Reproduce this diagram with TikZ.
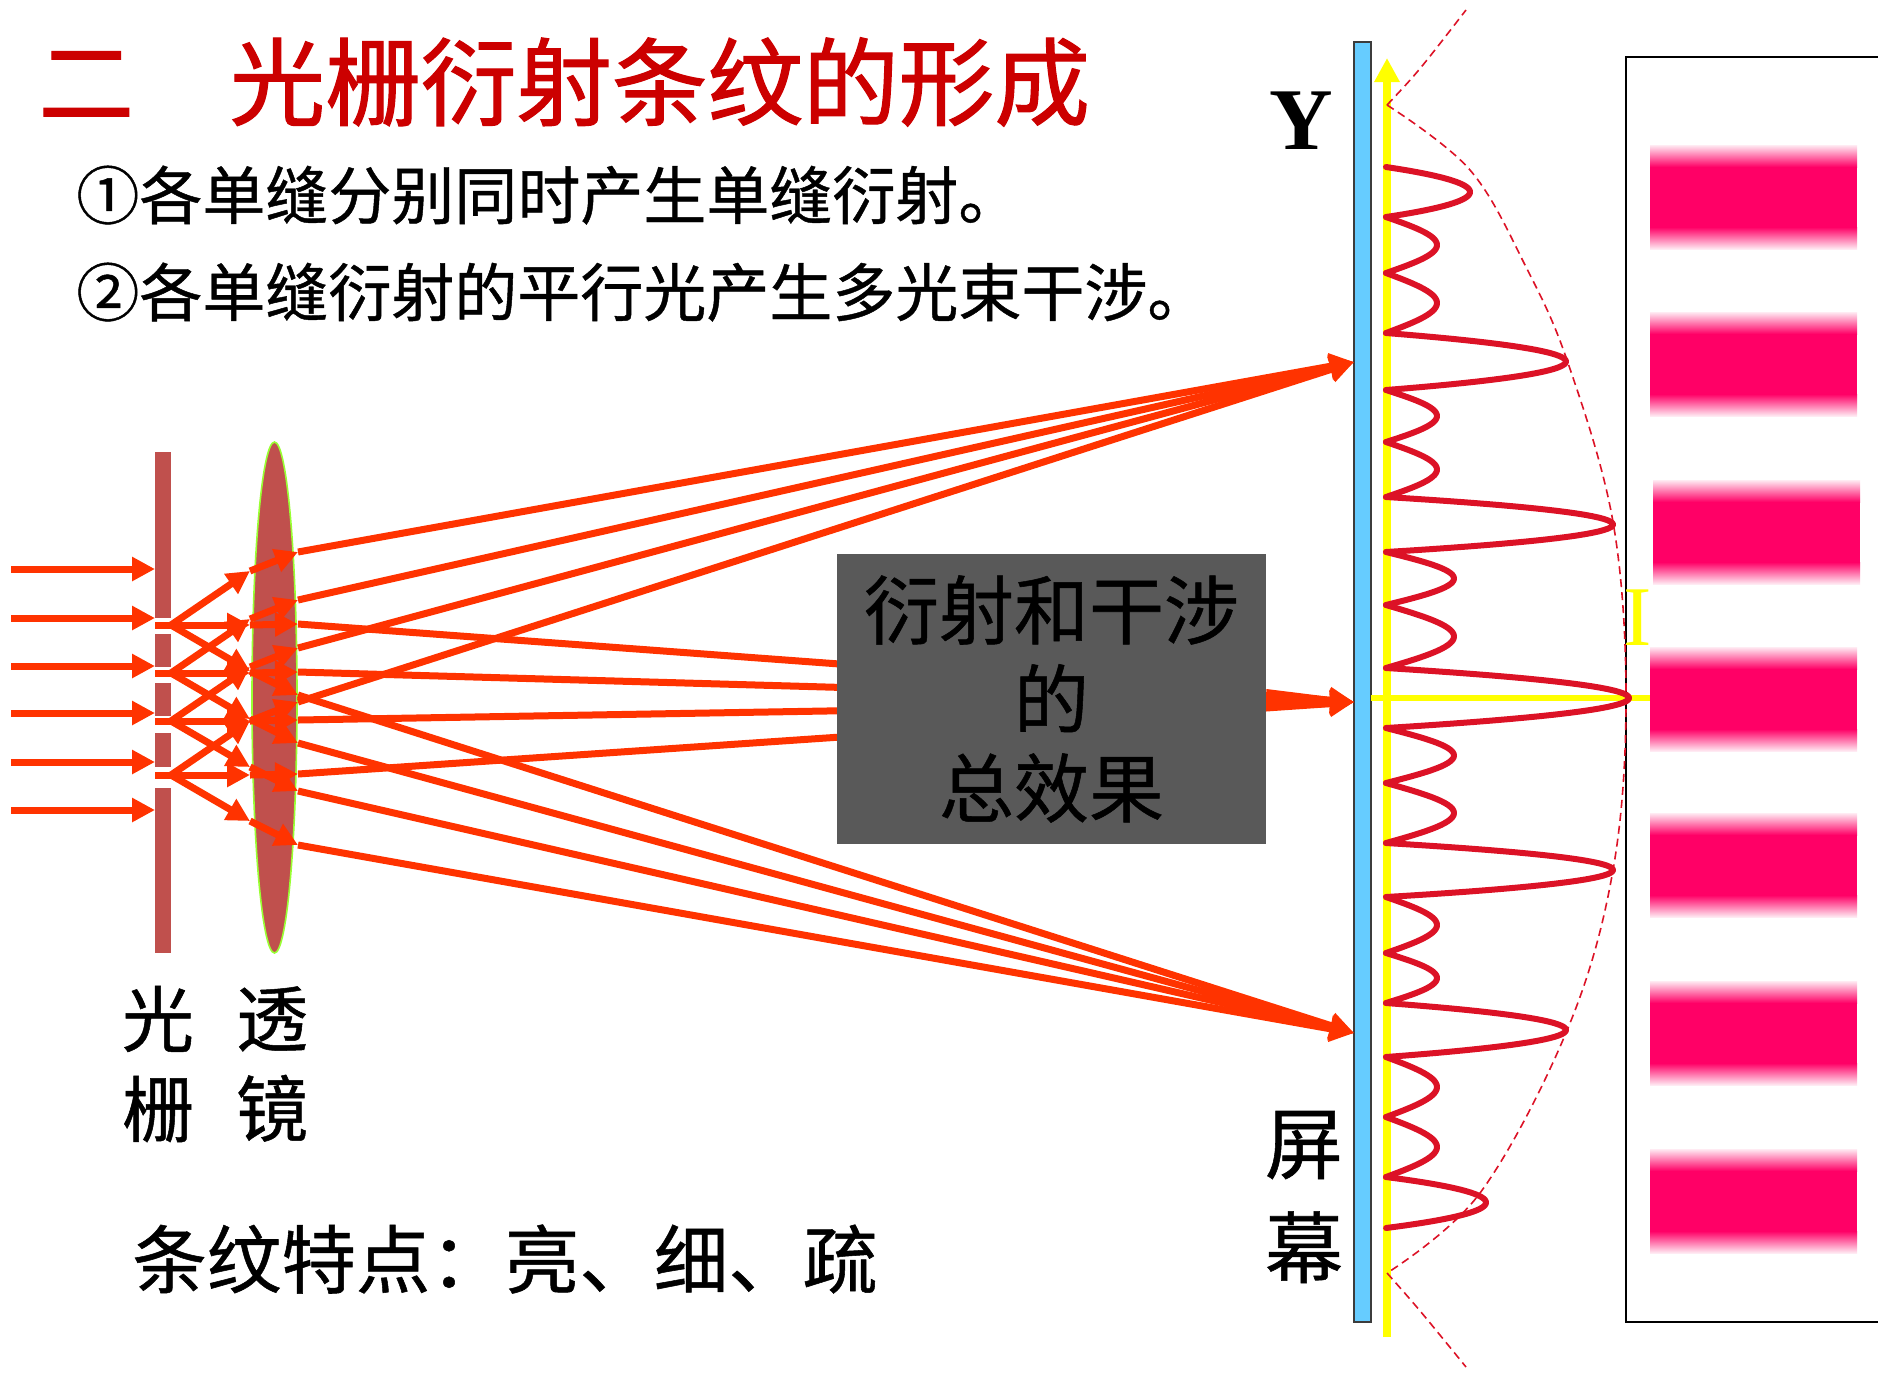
\documentclass[tikz,border=0pt]{standalone}
\usepackage{fontspec}
\setmainfont{Liberation Serif}
\newfontfamily\cjk[FakeBold=0.7]{Noto Sans CJK SC}
\newfontfamily\cjktitle[FakeBold=1.2]{Noto Sans CJK SC}
\newfontfamily\tms{Liberation Serif}
\usetikzlibrary{arrows.meta,shapes.geometric,calc}

\definecolor{raycol}{RGB}{255,51,0}
\definecolor{barcol}{RGB}{192,80,77}
\definecolor{lensedge}{RGB}{153,255,51}
\definecolor{titlered}{RGB}{204,0,0}
\definecolor{boxgray}{RGB}{89,89,89}
\definecolor{screenblue}{RGB}{102,204,255}
\definecolor{screenedge}{RGB}{60,60,60}
\definecolor{axisyellow}{RGB}{255,255,0}
\definecolor{curvered}{RGB}{220,18,38}
\definecolor{fringe}{RGB}{255,0,102}

\tikzset{
  ray/.style={draw=raycol, line width=3.5pt, -{Triangle[length=11.5pt,width=11.5pt]}},
  screenray/.style={draw=raycol, line width=3.5pt, -{Triangle[length=12pt,width=12.5pt]}},
  lobe/.style={draw=curvered, line width=3pt, line cap=round, line join=round},
  envelope/.style={draw=curvered, line width=0.8pt, dash pattern=on 4pt off 2.5pt},
  cjktext/.style={inner sep=0pt, text=black},
}

\begin{document}
\begin{tikzpicture}[x=0.5pt, y=-0.5pt]
\useasboundingbox (0,0) rectangle (1878,1372);

% ---------- headings ----------
\node[cjktext, anchor=west, text=titlered, font=\cjktitle\fontsize{47.8}{52}\selectfont] (title) at (38,82) {二　光栅衍射条纹的形成};
\node[cjktext, anchor=west, font=\cjk\fontsize{31.5}{36}\selectfont] (point1) at (76,195) {①各单缝分别同时产生单缝衍射。};
\node[cjktext, anchor=west, font=\cjk\fontsize{31.5}{36}\selectfont] (point2) at (76,292) {②各单缝衍射的平行光产生多光束干涉。};

% ---------- grating ----------
\foreach \ya/\yb in {452/618, 634/667, 683/716, 733/767, 788/953}
  \fill[barcol] (155,\ya) rectangle (171,\yb);

% ---------- lens ----------
\node[ellipse, fill=barcol, draw=lensedge, line width=0.8pt, inner sep=0pt,
      minimum width=22.5pt, minimum height=255.5pt] (lens) at (274.5,697.5) {};

% ---------- incident plane wave ----------
\foreach \i/\y in {1/569, 2/618, 3/666, 4/713, 5/762, 6/810} {
  \coordinate (src\i) at (11,\y);
  \coordinate (hit\i) at (155,\y);
  \draw[ray] (src\i) -- (hit\i);
}

% ---------- screen, axis and focal points ----------
\node[fill=screenblue, draw=screenedge, line width=0.8pt, inner sep=0pt,
      minimum width=8.5pt, minimum height=640pt] (screen) at (1362.5,682) {};
\coordinate (ftop) at (1354,362);
\coordinate (fmid) at (1354,702);
\coordinate (fbot) at (1354,1033);

% ---------- rays through the slits and the lens ----------
\foreach \k/\s in {1/625, 2/673, 3/721, 4/775} {
  \coordinate (slitL\k) at (155,\s);
  \coordinate (slitR\k) at (171,\s);
  \coordinate (inU\k) at (250,\s-54);
  \coordinate (inS\k) at (250,\s);
  \coordinate (inD\k) at (250,\s+46);
  \coordinate (outU\k) at (298,\s-73);
  \coordinate (outS\k) at (298,\s-1);
  \coordinate (outD\k) at (298,\s+70);
  \draw[ray] (slitL\k) -- (inS\k);
  \draw[ray] (slitR\k) -- (inU\k);
  \draw[ray] (slitR\k) -- (inD\k);
  \draw[ray] (inU\k) -- (outU\k);
  \draw[ray] (inS\k) -- (outS\k);
  \draw[ray] (inD\k) -- (outD\k);
}
\foreach \k in {1,2,3,4} {
  \draw[screenray] (outU\k) -- (ftop);
  \draw[screenray] (outS\k) -- (fmid);
  \draw[screenray] (outD\k) -- (fbot);
}

% ---------- combined effect box ----------
\node[fill=boxgray, inner sep=0pt, minimum width=214.5pt, minimum height=145pt,
      align=center, font=\cjk\fontsize{37.5}{44.5}\selectfont] (box) at (1051.5,699)
      {衍射和干涉\\的\\总效果};
\fill[raycol] ($(box.east)+(0,-10)$) -- ($(fmid)+(-23,-5)$) -- ($(fmid)+(-23,-12)$)
  -- (fmid) -- ($(fmid)+(-23,12)$) -- ($(fmid)+(-23,5)$) -- ($(box.east)+(0,10)$) -- cycle;

% ---------- intensity axis ----------
\coordinate (axbot) at (1387,1337);
\coordinate (axtop) at (1387,58);
\draw[axisyellow, line width=4.2pt, -{Triangle[length=12pt,width=12pt]}] (axbot) -- (axtop);
\coordinate (midL) at (1371,698);
\coordinate (midR) at (1650,698);
\draw[axisyellow, line width=3pt] (midL) -- (midR);

% ---------- fringe panel ----------
\draw[black, line width=0.9pt] (1878,57) -- (1626,57) -- (1626,1322) -- (1878,1322);
\foreach \c/\dx in {197/0, 364/0, 532/3, 699/0, 865/0, 1033/0, 1201/0} {
  \fill[fringe] (1650+\dx,\c-31) rectangle (1857+\dx,\c+31);
  \shade[top color=fringe!8, bottom color=fringe] (1650+\dx,\c-52) rectangle (1857+\dx,\c-30);
  \shade[top color=fringe, bottom color=fringe!8] (1650+\dx,\c+30) rectangle (1857+\dx,\c+52);
}

% ---------- single-slit envelope ----------
\draw[envelope] plot[smooth, tension=0.6] coordinates {
  (1387,105) (1470,170) (1526,267) (1568,363) (1613,522) (1626,698)
  (1613,870) (1568,1028) (1480,1193) (1387,1273)};
\draw[envelope] (1387,105) .. controls (1418,72) .. (1466,10);
\draw[envelope] (1387,1273) .. controls (1418,1308) .. (1466,1367);

% ---------- multi-slit intensity curve ----------
% secondary maxima
\foreach \ya/\yb/\A in {217/273/51, 273/333/51, 390/442/51, 442/497/51,
    552/605/68, 605/668/68, 728/783/68, 783/843/68,
    897/953/51, 953/1003/51, 1057/1117/51, 1117/1177/51}
  \draw[lobe] plot[domain=-1:1, samples=31, variable=\u]
    ({1386+\A*cos(90*\u)}, {(\ya+\yb)/2+(\yb-\ya)/2*\u});
% principal maxima
\foreach \ya/\yb/\A in {167/217/84, 333/390/180, 497/552/227, 668/728/243,
    843/897/227, 1003/1057/180, 1177/1228/100}
  \draw[lobe] plot[domain=-1:1, samples=41, variable=\u]
    ({1386+\A*(1-\u*\u)}, {(\ya+\yb)/2+(\yb-\ya)/2*\u});

% ---------- labels ----------
\node[inner sep=0pt, font=\tms\bfseries\fontsize{44}{48}\selectfont] (ylab) at (1301,121) {Y};
\node[inner sep=0pt, text=axisyellow, font=\tms\fontsize{42.5}{46}\selectfont] (ilab) at (1638,618) {I};
\node[cjktext, align=center, font=\cjk\fontsize{36}{45}\selectfont] (glab) at (158,1064) {光\\栅};
\node[cjktext, align=center, font=\cjk\fontsize{36}{45}\selectfont] (llab) at (272,1064) {透\\镜};
\node[cjktext, align=center, font=\cjk\fontsize{39}{52}\selectfont] (slab) at (1304,1197) {屏\\幕};
\node[cjktext, anchor=west, font=\cjk\fontsize{37.25}{42}\selectfont] (feature) at (132,1259) {条纹特点：亮、细、疏};

\end{tikzpicture}
\end{document}
